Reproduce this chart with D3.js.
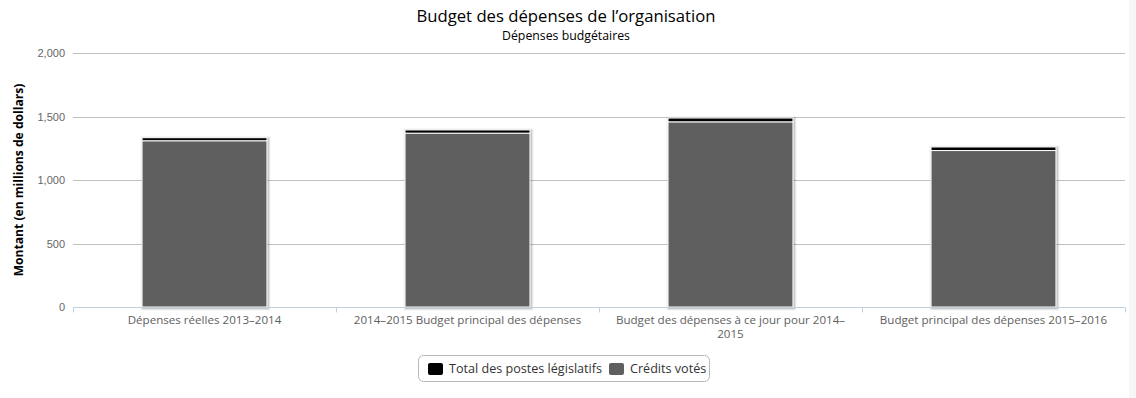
<!DOCTYPE html>
<html>
<head>
<meta charset="utf-8">
<script src="https://cdn.jsdelivr.net/npm/d3@7"></script>
<style>
  html, body { margin: 0; padding: 0; background: #fff; }
  svg { display: block; font-family: "Lucida Grande", "Lucida Sans Unicode", "Open Sans", sans-serif; }
</style>
</head>
<body>
<svg id="chart" width="1136" height="398"></svg>
<script>
const categories = [
  "Dépenses réelles 2013–2014",
  "2014–2015 Budget principal des dépenses",
  "Budget des dépenses à ce jour pour 2014–2015",
  "Budget principal des dépenses 2015–2016"
];
const tickLabelLines = [
  ["Dépenses réelles 2013–2014"],
  ["2014–2015 Budget principal des dépenses"],
  ["Budget des dépenses à ce jour pour 2014–", "2015"],
  ["Budget principal des dépenses 2015–2016"]
];
const seriesNames = ["Total des postes législatifs", "Crédits votés"];
const legislative = [24, 25, 30, 28];
const voted = [1309, 1369, 1458, 1232];
const yTicks = [0, 500, 1000, 1500, 2000];
const seriesColors = ["#000000", "#5f5f5f"];

const svg = d3.select("#chart");
const W = 1136, H = 398;
const margin = {left: 73, right: 11, top: 53, bottom: 91};
const x = d3.scaleBand().domain(categories).range([margin.left, W - margin.right]).padding(0);
const y = d3.scaleLinear().domain([0, 2000]).range([H - margin.bottom, margin.top]);

// faint right strip
svg.append("rect").attr("x", 1129).attr("y", 0).attr("width", 7).attr("height", H).attr("fill", "#f6f6f6");

// title
svg.append("text").attr("x", 566).attr("y", 21.5).attr("text-anchor", "middle")
  .attr("font-size", 16.7).attr("fill", "#000").text("Budget des dépenses de l’organisation");
svg.append("text").attr("x", 566).attr("y", 39.5).attr("text-anchor", "middle")
  .attr("font-size", 12.3).attr("fill", "#000").text("Dépenses budgétaires");

// gridlines
const yAxis = d3.axisLeft(y).tickValues(yTicks).tickSize(-(W - margin.left - margin.right))
  .tickFormat(d3.format(",")).tickPadding(8);
const gy = svg.append("g").attr("transform", `translate(${margin.left},0)`).call(yAxis);
gy.select(".domain").remove();
gy.selectAll(".tick line").attr("stroke", "#c0c0c0").attr("shape-rendering", "crispEdges")
  .filter(d => d === 0).remove();
gy.selectAll(".tick text").attr("font-size", 11).attr("fill", "#666").attr("font-family", null);

// y-axis title
svg.append("text").attr("transform", `translate(23,${(y(0) + y(2000)) / 2}) rotate(-90)`)
  .attr("text-anchor", "middle").attr("font-size", 12.1).attr("font-weight", "bold")
  .attr("fill", "#000").text("Montant (en millions de dollars)");

// bars
const stackData = categories.map((c, i) => ({cat: c, leg: legislative[i], vot: voted[i]}));
const barW = x.bandwidth() * 0.475;
const bars = svg.append("g");
stackData.forEach(d => {
  const bx = x(d.cat) + (x.bandwidth() - barW) / 2;
  const top = y(d.leg + d.vot), bot = y(0);
  [[5, 0.05], [3, 0.1], [1, 0.15]].forEach(([sw, op]) => {
    bars.append("rect").attr("x", bx + 1).attr("y", top + 1).attr("width", barW).attr("height", bot - top)
      .attr("fill", "none").attr("stroke", "#000").attr("stroke-opacity", op).attr("stroke-width", sw);
  });
});
stackData.forEach(d => {
  const bx = x(d.cat) + (x.bandwidth() - barW) / 2;
  bars.append("rect").attr("x", bx).attr("y", y(d.vot)).attr("width", barW)
    .attr("height", y(0) - y(d.vot)).attr("fill", seriesColors[1]).attr("stroke", "#fff").attr("stroke-width", 1);
  bars.append("rect").attr("x", bx).attr("y", y(d.vot + d.leg)).attr("width", barW)
    .attr("height", y(d.vot) - y(d.vot + d.leg)).attr("fill", seriesColors[0]).attr("stroke", "#fff").attr("stroke-width", 1);
});

// x axis
const axY = y(0) + 0.5;
svg.append("line").attr("x1", margin.left).attr("x2", W - margin.right).attr("y1", axY).attr("y2", axY)
  .attr("stroke", "#c0d0e0");
const bounds = categories.map(c => x(c)).concat([W - margin.right]);
bounds.forEach(b => {
  const bx = Math.round(b) + 0.5;
  svg.append("line").attr("x1", bx).attr("x2", bx).attr("y1", axY).attr("y2", axY + 5).attr("stroke", "#c0d0e0");
});
categories.forEach((c, i) => {
  const t = svg.append("text").attr("x", x(c) + x.bandwidth() / 2).attr("y", 324)
    .attr("text-anchor", "middle").attr("font-size", 11.6).attr("fill", "#606060");
  tickLabelLines[i].forEach((ln, j) => {
    t.append("tspan").attr("x", x(c) + x.bandwidth() / 2).attr("dy", j === 0 ? 0 : 14).text(ln);
  });
});

// legend
const lg = svg.append("g");
lg.append("rect").attr("x", 418.5).attr("y", 355.5).attr("width", 291).attr("height", 26).attr("rx", 5)
  .attr("fill", "#fff").attr("stroke", "#b8b8b8");
const items = [{name: seriesNames[0], color: seriesColors[0], x: 428}, {name: seriesNames[1], color: seriesColors[1], x: 609}];
items.forEach(it => {
  lg.append("rect").attr("x", it.x).attr("y", 363).attr("width", 15).attr("height", 12).attr("rx", 2).attr("fill", it.color);
  lg.append("text").attr("x", it.x + 21).attr("y", 373).attr("font-size", 12.6).attr("fill", "#333").text(it.name);
});
</script>
</body>
</html>
